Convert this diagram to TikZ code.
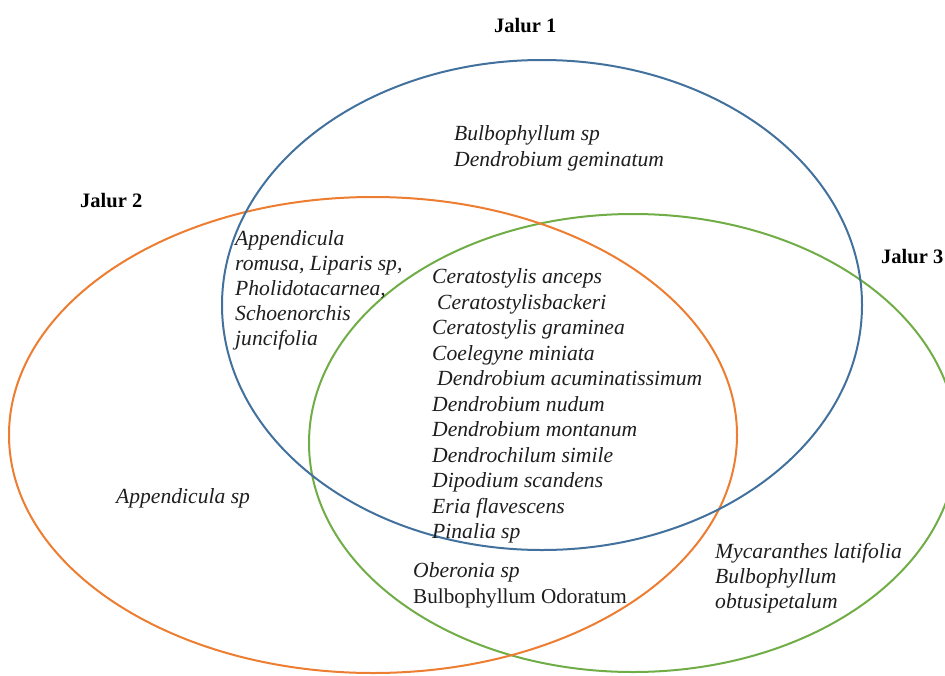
\documentclass[tikz,border=0pt]{standalone}
\usepackage{fontspec}
\setmainfont{Liberation Serif}
\definecolor{jblue}{RGB}{65,113,156}
\definecolor{jorange}{RGB}{237,125,49}
\definecolor{jgreen}{RGB}{112,173,71}
\definecolor{ink}{RGB}{30,30,30}
\begin{document}
\begin{tikzpicture}[x=1pt,y=-1pt,
  sp/.style={anchor=base west, inner sep=0pt, text=ink, font=\fontsize{21.6}{25}\selectfont\itshape},
  upr/.style={anchor=base west, inner sep=0pt, text=ink, font=\fontsize{21.2}{25}\selectfont},
  ttl/.style={anchor=base west, inner sep=0pt, text=black, font=\fontsize{20.5}{24}\selectfont\bfseries},
  ring/.style={line width=2pt}]
\useasboundingbox (0,0) rectangle (945,675);
\begin{scope}
  \clip (0,0) rectangle (945,675);
  \coordinate (c2) at (373,435);
  \coordinate (c3) at (633,443);
  \coordinate (c1) at (542,305);
  \draw[ring, jgreen] (c3) ellipse [x radius=324pt, y radius=229pt];
  \draw[ring, jorange] (c2) ellipse [x radius=364pt, y radius=238pt];
  \draw[ring, jblue] (c1) ellipse [x radius=320pt, y radius=245pt];
\end{scope}
% titles
\node[ttl] (t1) at (494,32) {Jalur 1};
\node[ttl] (t2) at (80,207) {Jalur 2};
\node[ttl] (t3) at (881,263) {Jalur 3};
% Jalur 1 only
\node[sp] (a1) at (454,140) {Bulbophyllum sp};
\node[sp] (a2) at (454,166) {Dendrobium geminatum};
% Jalur 1 & 2
\node[sp] (b1) at (235,245) {Appendicula};
\node[sp] (b2) at (235,270) {romusa, Liparis sp,};
\node[sp] (b3) at (235,295) {Pholidotacarnea,};
\node[sp] (b4) at (235,320) {Schoenorchis};
\node[sp] (b5) at (235,345) {juncifolia};
% all three
\node[sp] (m1) at (432,283.5) {Ceratostylis anceps};
\node[sp] (m2) at (437,309) {Ceratostylisbackeri};
\node[sp] (m3) at (432,334.5) {Ceratostylis graminea};
\node[sp] (m4) at (432,360) {Coelegyne miniata};
\node[sp] (m5) at (437,385.5) {Dendrobium acuminatissimum};
\node[sp] (m6) at (432,411) {Dendrobium nudum};
\node[sp] (m7) at (432,436.5) {Dendrobium montanum};
\node[sp] (m8) at (432,462) {Dendrochilum simile};
\node[sp] (m9) at (432,487.5) {Dipodium scandens};
\node[sp] (m10) at (432,513) {Eria flavescens};
\node[sp] (m11) at (432,538.5) {Pinalia sp};
% Jalur 2 only
\node[sp] (d1) at (116,503) {Appendicula sp};
% Jalur 2 & 3
\node[sp] (e1) at (413,577) {Oberonia sp};
\node[upr] (e2) at (413,603) {Bulbophyllum Odoratum};
% Jalur 3 only
\node[sp] (f1) at (715,558) {Mycaranthes latifolia};
\node[sp] (f2) at (715,583) {Bulbophyllum};
\node[sp] (f3) at (715,608) {obtusipetalum};
\end{tikzpicture}
\end{document}
